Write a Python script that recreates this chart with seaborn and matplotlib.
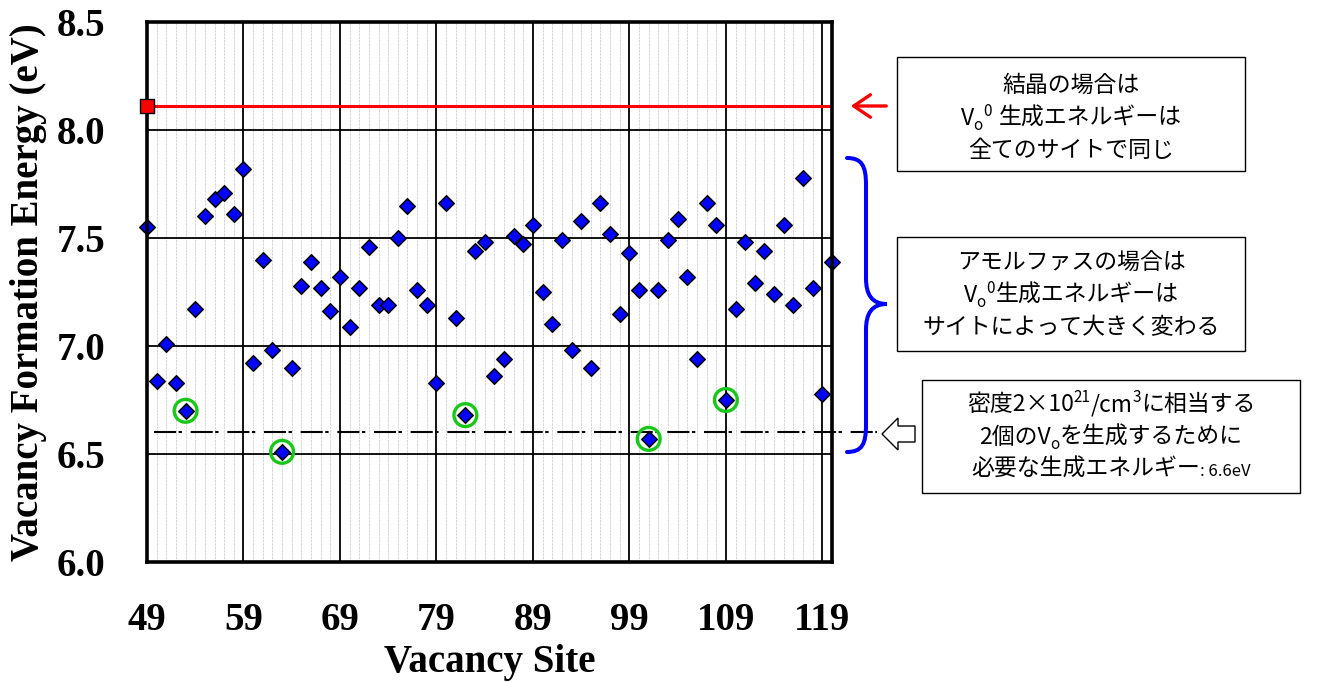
import numpy as np
import pandas as pd
import matplotlib
matplotlib.use("Agg")
import matplotlib.pyplot as plt
import seaborn as sns
from matplotlib.patches import Rectangle, PathPatch, Polygon, FancyArrowPatch
from matplotlib.path import Path
from matplotlib.transforms import blended_transform_factory

# ---- data -------------------------------------------------------------
sites = list(range(49, 121))
energy = [7.55, 6.84, 7.01, 6.83, 6.70, 7.17, 7.60, 7.68, 7.71, 7.61,
          7.82, 6.92, 7.40, 6.98, 6.51, 6.90, 7.28, 7.39, 7.27, 7.16,
          7.32, 7.09, 7.27, 7.46, 7.19, 7.19, 7.50, 7.65, 7.26, 7.19,
          6.83, 7.66, 7.13, 6.68, 7.44, 7.48, 6.86, 6.94, 7.51, 7.47,
          7.56, 7.25, 7.10, 7.49, 6.98, 7.58, 6.90, 7.66, 7.52, 7.15,
          7.43, 7.26, 6.57, 7.26, 7.49, 7.59, 7.32, 6.94, 7.66, 7.56,
          6.75, 7.17, 7.48, 7.29, 7.44, 7.24, 7.56, 7.19, 7.78, 7.27,
          6.78, 7.39]
highlight_sites = [53, 63, 82, 101, 109]
crystal_site = 49
crystal_energy = 8.11
threshold_energy = 6.6

x_ticks = list(range(49, 120, 10))
y_ticks = [6.0, 6.5, 7.0, 7.5, 8.0, 8.5]

df = pd.DataFrame({"site": sites, "energy": energy})
hl = df[df["site"].isin(highlight_sites)]

# ---- figure -----------------------------------------------------------
W, H = 1328, 682
sns.set_style("white")
plt.rcParams["font.family"] = ["Liberation Serif", "DejaVu Serif"]
plt.rcParams["font.weight"] = "bold"
for key in ("text.color", "axes.labelcolor", "xtick.color", "ytick.color"):
    plt.rcParams[key] = "black"
JP = ["Noto Sans CJK JP", "DejaVu Sans"]

fig = plt.figure(figsize=(W / 100, H / 100), dpi=100)
ax = fig.add_axes([147 / W, 1 - 562 / H, (832 - 147) / W, (562 - 22) / H])

ax.set_xlim(49, 120)
ax.set_ylim(6.0, 8.5)
ax.set_xticks(x_ticks)
ax.set_xticks(sites, minor=True)
ax.set_yticks(y_ticks)
ax.set_yticklabels([f"{v:.1f}" for v in y_ticks])
ax.grid(which="minor", axis="x", color="#cfcfcf", lw=0.6, ls=(0, (3, 1)))
ax.grid(which="major", axis="both", color="black", lw=1.3)
ax.set_axisbelow(True)
ax.tick_params(which="both", length=0)
ax.tick_params(axis="y", labelsize=28, pad=30)
ax.tick_params(axis="x", labelsize=28, pad=29)
for sp in ax.spines.values():
    sp.set_linewidth(2.6)
    sp.set_color("black")
    sp.set_zorder(6)

# crystal reference level
ax.axhline(crystal_energy, color="red", lw=2.2, zorder=3)
sns.scatterplot(x=[crystal_site], y=[crystal_energy], marker="s", s=88,
                color="red", edgecolor="black", linewidth=1.0, zorder=7,
                clip_on=False, ax=ax, legend=False)

# energy needed for 2e21 cm^-3 vacancies
bt = blended_transform_factory(ax.transAxes, ax.transData)
thr, = ax.plot([0.0102, 1.066], [threshold_energy, threshold_energy], transform=bt,
               color="black", lw=1.5, clip_on=False, zorder=4)
thr.set_dashes([10.6, 1.2, 1.6, 4.2])

# highlighted sites
ax.scatter(hl["site"], hl["energy"], s=270, facecolors="none",
           edgecolors="#18c818", linewidths=2.4, zorder=4, clip_on=False)

# amorphous sites
sns.scatterplot(data=df, x="site", y="energy", marker="D", s=62,
                color="#0000ff", edgecolor="black", linewidth=1.1,
                zorder=5, clip_on=False, ax=ax, legend=False)
ax.set_xlabel("Vacancy Site", fontsize=28, fontweight="bold")
ax.set_ylabel("Vacancy Formation Energy (eV)", fontsize=28, fontweight="bold")
ax.xaxis.set_label_coords(0.5, -0.152)
ax.yaxis.set_label_coords(-0.146, 0.5)


# ---- annotations (pixel coordinates, origin top-left) -------------------
def fx(x):
    return x / W


def fy(y):
    return 1 - y / H


def box(x0, y0, x1, y1):
    fig.add_artist(Rectangle((fx(x0), fy(y1)), (x1 - x0) / W, (y1 - y0) / H,
                             transform=fig.transFigure, facecolor="white",
                             edgecolor="black", lw=1.0, zorder=10))


renderer = fig.canvas.get_renderer()


def rich_line(xc, y_base, parts):
    """Lay out text runs side by side; a bare number is a gap in pixels."""
    items = []
    for part in parts:
        if isinstance(part, (int, float)):
            items.append((None, 0, part))
            continue
        s, size, rise = part
        t = fig.text(0, 0, s, fontsize=size, family=JP, fontweight="normal",
                     color="black", ha="left", va="baseline", zorder=11)
        w = t.get_window_extent(renderer).width
        items.append((t, rise, w))
    x = xc - sum(w for _, _, w in items) / 2
    for t, rise, w in items:
        if t is not None:
            t.set_position((fx(x), fy(y_base - rise)))
        x += w


FS = 16.5
SM = 11

box(897, 57, 1245, 171)
bx = (897 + 1245) / 2
rich_line(bx, 92, [("結晶の場合は", FS, 0)])
rich_line(bx, 125, [("V", FS, 0), ("o", SM, -5), ("0", SM, 9), 7,
                    ("生成エネルギーは", FS, 0)])
rich_line(bx, 157, [("全てのサイトで同じ", FS, 0)])

box(897, 237, 1245, 351)
rich_line(bx, 270, [("アモルファスの場合は", FS, 0)])
rich_line(bx, 302, [("V", FS, 0), ("o", SM, -5), ("0", SM, 9), 1,
                    ("生成エネルギーは", FS, 0)])
rich_line(bx, 334, [("サイトによって大きく変わる", FS, 0)])

box(922, 380, 1300, 493)
bx3 = (922 + 1300) / 2
rich_line(bx3, 411, [("密度2×10", FS, 0), ("21", SM, 9), ("/cm", FS, 0),
                     ("3", SM, 9), ("に相当する", FS, 0)])
rich_line(bx3, 444, [("2個のV", FS, 0), ("o", SM, -5), ("を生成するために", FS, 0)])
rich_line(bx3, 476, [("必要な生成エネルギー", FS, 0), (": 6.6eV", 12, 0)])

# red arrow to the crystal level
fig.add_artist(FancyArrowPatch((fx(889), fy(106)), (fx(848), fy(106)),
                               transform=fig.transFigure,
                               arrowstyle="->,head_length=0.4,head_width=0.27",
                               mutation_scale=30, color="red", lw=2.4, zorder=10))

# blue brace spanning the amorphous spread
pts = [(847, 158), (862, 158), (866, 166), (866, 185),
       (866, 278),
       (866, 295), (872, 304), (887, 304),
       (872, 304), (866, 313), (866, 330),
       (866, 425),
       (866, 444), (862, 452), (847, 452)]
codes = [Path.MOVETO, Path.CURVE4, Path.CURVE4, Path.CURVE4,
         Path.LINETO,
         Path.CURVE4, Path.CURVE4, Path.CURVE4,
         Path.CURVE4, Path.CURVE4, Path.CURVE4,
         Path.LINETO,
         Path.CURVE4, Path.CURVE4, Path.CURVE4]
brace = Path([(fx(x), fy(y)) for x, y in pts], codes)
fig.add_artist(PathPatch(brace, transform=fig.transFigure, fill=False,
                         edgecolor="#0000ff", lw=2.9, capstyle="round", zorder=10))

# hollow block arrow pointing at the threshold line
arrow_pts = [(882, 434), (898, 418), (898, 426), (915, 426),
             (915, 442), (898, 442), (898, 450)]
fig.add_artist(Polygon([(fx(x), fy(y)) for x, y in arrow_pts], closed=True,
                       transform=fig.transFigure, facecolor="white",
                       edgecolor="black", lw=1.0, zorder=10))

fig.savefig("out.png", dpi=100)
